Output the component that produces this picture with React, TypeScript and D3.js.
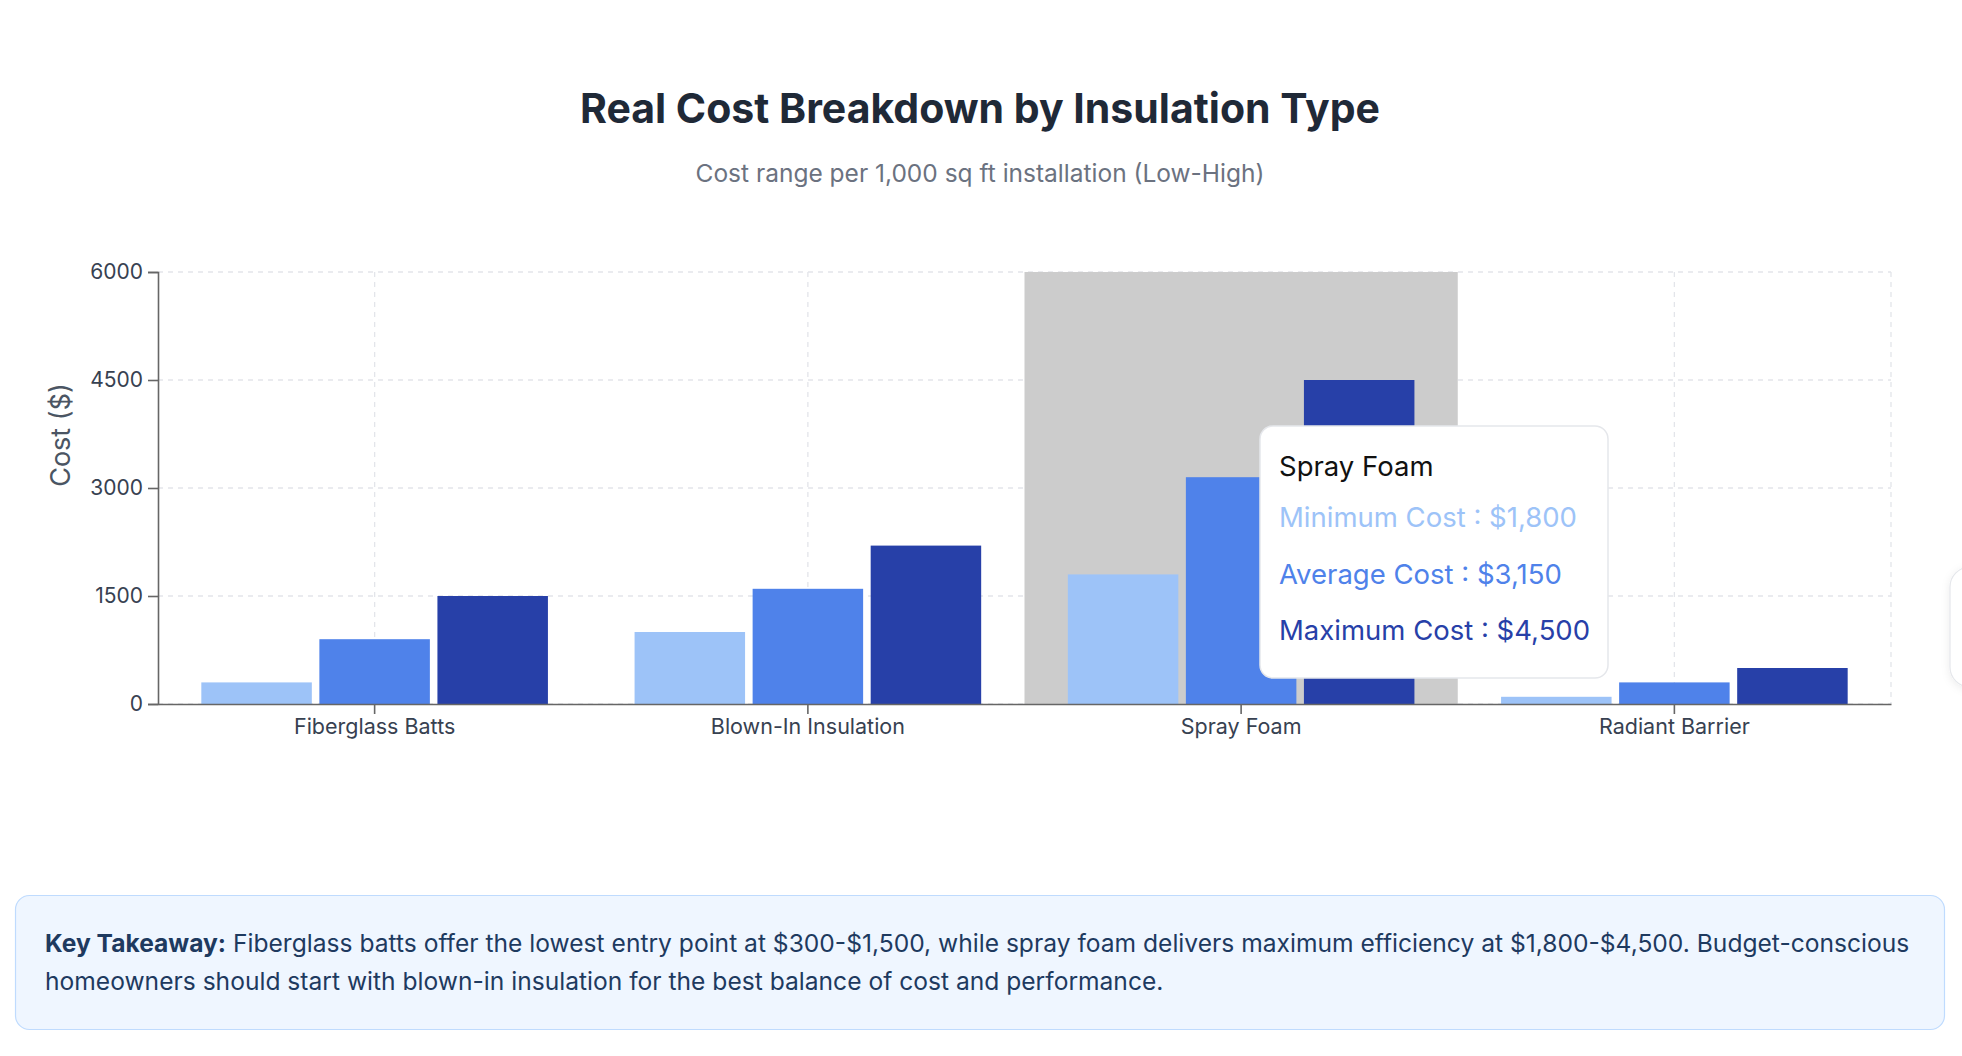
import React, { useEffect, useRef } from "react";
import * as d3 from "d3";

// Cost data per 1,000 sq ft installation
const categories = ["Fiberglass Batts", "Blown-In Insulation", "Spray Foam", "Radiant Barrier"];
const minimumCost = [300, 1000, 1800, 100];
const averageCost = [900, 1600, 3150, 300];
const maximumCost = [1500, 2200, 4500, 500];
const seriesNames = ["Minimum Cost", "Average Cost", "Maximum Cost"];
const seriesColors = ["#9dc3f8", "#4f82ea", "#2740a8"];
const yTicks = [0, 1500, 3000, 4500, 6000];
const activeCategory = "Spray Foam";

const W = 1962;
const H = 1056;
const FONT = "Inter, 'Noto Sans', sans-serif";

export default function App() {
  const ref = useRef<SVGSVGElement | null>(null);

  useEffect(() => {
    const svg = d3.select(ref.current);
    svg.selectAll("*").remove();

    const left = 158, right = 1891, top = 272, bottom = 704;
    const series = [minimumCost, averageCost, maximumCost];

    const defs = svg.append("defs");
    const shadow = defs.append("filter").attr("id", "soft").attr("x", "-30%").attr("y", "-30%").attr("width", "160%").attr("height", "160%");
    shadow.append("feDropShadow").attr("dx", 0).attr("dy", 2).attr("stdDeviation", 4).attr("flood-color", "#000").attr("flood-opacity", 0.08);

    // Title and subtitle
    svg.append("text").attr("x", 980).attr("y", 123).attr("text-anchor", "middle")
      .attr("font-family", FONT).attr("font-size", 41).attr("font-weight", 700).attr("fill", "#1f2937")
      .text("Real Cost Breakdown by Insulation Type");
    svg.append("text").attr("x", 980).attr("y", 182).attr("text-anchor", "middle")
      .attr("font-family", FONT).attr("font-size", 24.5).attr("fill", "#6b7280")
      .text("Cost range per 1,000 sq ft installation (Low-High)");

    const x = d3.scaleBand<string>().domain(categories).range([left, right]).padding(0);
    const bw = x.bandwidth();
    const inner = d3.scaleBand<string>().domain(seriesNames)
      .range([bw * 0.1, bw * 0.9]).paddingInner(0.064).paddingOuter(0);
    const y = d3.scaleLinear().domain([0, 6000]).range([bottom, top]);

    // Grid
    const grid = svg.append("g").attr("stroke", "#e3e5ea").attr("stroke-dasharray", "5 5").attr("stroke-width", 1.3);
    yTicks.forEach((t) => {
      grid.append("line").attr("x1", left).attr("x2", right).attr("y1", y(t)).attr("y2", y(t));
    });
    const vx = [...categories.map((c) => (x(c) as number) + bw / 2), right];
    vx.forEach((v) => {
      grid.append("line").attr("x1", v).attr("x2", v).attr("y1", top).attr("y2", bottom);
    });

    // Hover cursor on active category
    svg.append("rect").attr("x", x(activeCategory) as number).attr("y", top)
      .attr("width", bw).attr("height", bottom - top).attr("fill", "#cccccc");

    // Bars
    const barsG = svg.append("g");
    categories.forEach((c, ci) => {
      seriesNames.forEach((s, si) => {
        const v = series[si][ci];
        barsG.append("rect")
          .attr("x", (x(c) as number) + (inner(s) as number))
          .attr("y", y(v))
          .attr("width", inner.bandwidth())
          .attr("height", y(0) - y(v))
          .attr("fill", seriesColors[si]);
      });
    });

    // Axes
    const yAxis = svg.append("g").attr("transform", `translate(${left},0)`)
      .call(d3.axisLeft(y).tickValues(yTicks).tickSize(10).tickPadding(5).tickFormat((d) => String(d)));
    yAxis.select(".domain").attr("stroke", "#666").attr("stroke-width", 1.6);
    yAxis.selectAll(".tick line").attr("stroke", "#666").attr("stroke-width", 1.6);
    yAxis.selectAll(".tick text").attr("font-family", FONT).attr("font-size", 21).attr("fill", "#374151");

    const xAxis = svg.append("g").attr("transform", `translate(0,${bottom})`)
      .call(d3.axisBottom(x).tickSize(10).tickPadding(5).tickSizeOuter(0));
    xAxis.select(".domain").attr("stroke", "#666").attr("stroke-width", 1.6);
    xAxis.selectAll(".tick line").attr("stroke", "#666").attr("stroke-width", 1.6);
    xAxis.selectAll(".tick text").attr("font-family", FONT).attr("font-size", 21.5).attr("fill", "#374151");

    // Y axis title
    svg.append("text").attr("transform", "translate(70,435) rotate(-90)").attr("text-anchor", "middle")
      .attr("font-family", FONT).attr("font-size", 27).attr("fill", "#4b5563").text("Cost ($)");

    // Tooltip
    const ai = categories.indexOf(activeCategory);
    const tip = svg.append("g");
    tip.append("rect").attr("x", 1260).attr("y", 426).attr("width", 348).attr("height", 252).attr("rx", 13)
      .attr("fill", "#fff").attr("stroke", "#e5e7eb").attr("stroke-width", 1.5);
    tip.append("text").attr("x", 1279).attr("y", 476).attr("font-family", FONT).attr("font-size", 27.5)
      .attr("fill", "#111").text(activeCategory);
    seriesNames.forEach((s, si) => {
      tip.append("text").attr("x", 1279).attr("y", 527 + si * 56.5).attr("font-family", FONT).attr("font-size", 27.5)
        .attr("fill", seriesColors[si]).text(`${s} : $${d3.format(",")(series[si][ai])}`);
    });

    // Partial floating panel at the right edge
    svg.append("rect").attr("x", 1950).attr("y", 567).attr("width", 60).attr("height", 120).attr("rx", 20)
      .attr("fill", "#fff").attr("stroke", "#e5e7eb").attr("stroke-width", 1.2).attr("filter", "url(#soft)");

    // Key takeaway box
    svg.append("rect").attr("x", 15.5).attr("y", 895.5).attr("width", 1929).attr("height", 134).attr("rx", 14)
      .attr("fill", "#eff6ff").attr("stroke", "#bfdbfe").attr("stroke-width", 1.2);
    const t1 = svg.append("text").attr("x", 45).attr("y", 952).attr("font-family", FONT).attr("font-size", 24.6).attr("fill", "#1e3a5f");
    t1.append("tspan").attr("font-weight", 700).text("Key Takeaway:");
    t1.append("tspan").text(" Fiberglass batts offer the lowest entry point at $300-$1,500, while spray foam delivers maximum efficiency at $1,800-$4,500. Budget-conscious");
    svg.append("text").attr("x", 45).attr("y", 990).attr("font-family", FONT).attr("font-size", 24.6).attr("fill", "#1e3a5f")
      .text("homeowners should start with blown-in insulation for the best balance of cost and performance.");
  }, []);

  return (
    <div style={{ position: "absolute", left: 0, top: 0, width: W, height: H, background: "#fff" }}>
      <svg ref={ref} width={W} height={H} style={{ display: "block" }} />
    </div>
  );
}
